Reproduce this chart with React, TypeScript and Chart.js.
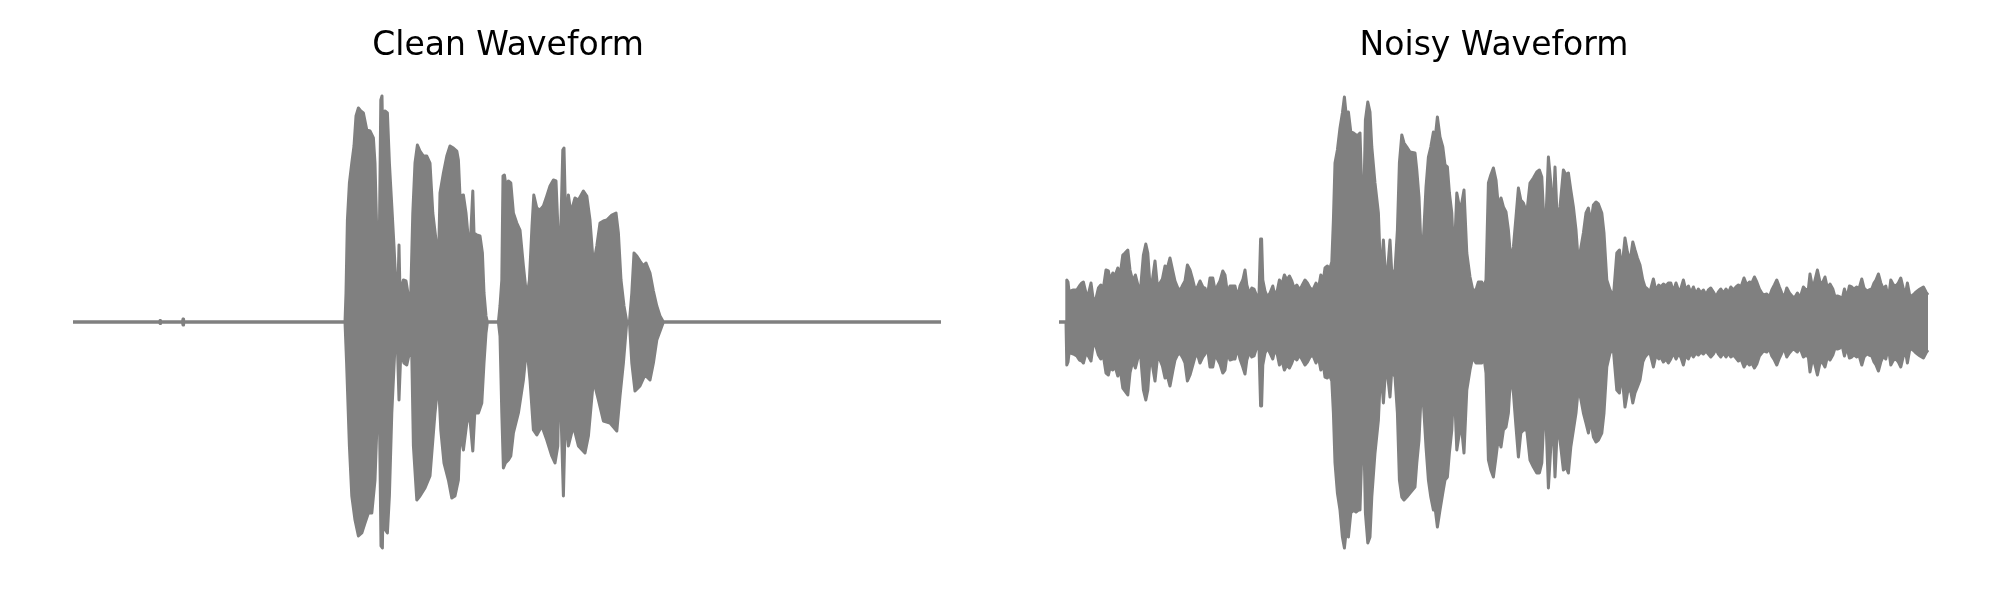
import React, { useEffect, useRef } from "react";
import { Chart, registerables } from "chart.js";

Chart.register(...registerables);

// Titles of the two panels
const TITLES = ["Clean Waveform", "Noisy Waveform"];

// Time axis (ms) and amplitude range (arbitrary units) shared by both panels
const DURATION_MS = 4350;
const AMP_MAX = 232;
const AMP_MIN = -238;

// Clean waveform: upper envelope [time ms, amplitude]
const cleanUpper: [number, number][] = [
  [0, 0], [432, 0], [435, 1.5], [438, 0], [547, 0], [550, 3], [553, 0],
  [1360, 0], [1365, 29], [1372, 102], [1382, 139], [1394, 159], [1405, 176], [1415, 206], [1427, 214],
  [1439, 211], [1452, 209], [1469, 192], [1485, 191], [1502, 184], [1510, 159], [1519, 89], [1532, 89],
  [1539, 222], [1545, 226], [1552, 142], [1560, 211], [1572, 209], [1582, 159], [1594, 116], [1605, 76],
  [1615, 36], [1625, 36], [1630, 77], [1635, 29], [1652, 42], [1665, 41], [1677, 26], [1689, 29],
  [1699, 109], [1710, 159], [1722, 177], [1735, 171], [1752, 166], [1769, 166], [1785, 159], [1799, 109],
  [1815, 82], [1827, 56], [1835, 129], [1852, 149], [1869, 166], [1885, 176], [1902, 174], [1919, 171],
  [1927, 162], [1935, 126], [1952, 127], [1965, 109], [1977, 82], [1989, 89], [1999, 131], [2005, 89],
  [2019, 87], [2035, 86], [2047, 69], [2055, 29], [2065, 6], [2072, 0], [2127, 0], [2135, 16],
  [2144, 42], [2150, 146], [2157, 147], [2165, 136], [2177, 141], [2189, 139], [2202, 109], [2219, 99],
  [2235, 92], [2252, 56], [2269, 24], [2282, 42], [2295, 96], [2304, 127], [2319, 114], [2335, 112],
  [2352, 116], [2369, 126], [2385, 136], [2402, 142], [2415, 141], [2425, 92], [2435, 62], [2449, 172],
  [2455, 174], [2464, 96], [2477, 127], [2489, 109], [2510, 124], [2527, 122], [2552, 131], [2569, 126],
  [2585, 102], [2602, 57], [2619, 76], [2635, 99], [2652, 101], [2669, 102], [2694, 107], [2715, 109],
  [2727, 89], [2740, 42], [2755, 16], [2769, 0], [2782, 0], [2794, 29], [2805, 69], [2819, 66],
  [2835, 61], [2852, 56], [2865, 59], [2885, 49], [2902, 31], [2919, 16], [2935, 6], [2952, 0],
  [4340, 0],
];

// Clean waveform: lower envelope [time ms, amplitude]
const cleanLower: [number, number][] = [
  [0, 0], [432, 0], [435, -1.5], [438, 0], [547, 0], [550, -3], [553, 0],
  [1360, 0], [1368, -41], [1382, -124], [1394, -174], [1410, -198], [1427, -214], [1444, -211], [1460, -201],
  [1477, -191], [1494, -191], [1510, -158], [1522, -91], [1532, -91], [1540, -224], [1547, -226], [1554, -124],
  [1562, -208], [1572, -211], [1582, -174], [1594, -91], [1610, -24], [1622, -24], [1630, -78], [1639, -31],
  [1655, -41], [1669, -43], [1682, -31], [1694, -34], [1702, -124], [1719, -178], [1735, -174], [1760, -166],
  [1785, -154], [1810, -91], [1827, -58], [1839, -108], [1855, -141], [1877, -158], [1894, -176], [1910, -174],
  [1927, -158], [1935, -111], [1952, -128], [1969, -101], [1982, -91], [1999, -129], [2009, -91], [2027, -91],
  [2044, -81], [2055, -41], [2065, -11], [2072, 0], [2127, 0], [2135, -14], [2144, -91], [2152, -146],
  [2162, -141], [2177, -138], [2189, -134], [2202, -111], [2227, -91], [2252, -58], [2269, -24], [2285, -58],
  [2302, -108], [2319, -113], [2344, -104], [2369, -118], [2394, -134], [2410, -141], [2424, -124], [2430, -58],
  [2440, -91], [2452, -174], [2462, -91], [2477, -124], [2502, -104], [2527, -124], [2560, -131], [2577, -114],
  [2602, -58], [2627, -78], [2652, -99], [2685, -101], [2719, -109], [2735, -74], [2752, -41], [2769, 0],
  [2782, 0], [2794, -41], [2810, -69], [2835, -64], [2860, -53], [2885, -58], [2902, -41], [2919, -18],
  [2952, 0], [4340, 0],
];

// Noisy waveform envelope: [time ms, upper amplitude, lower amplitude]
const noisyEnvelope: [number, number, number][] = [
  [0, 0, 0], [35, 0, 0], [39, 42, -43], [45, 40, -40], [52, 27, -28], [59, 31, -31], [72, 32, -32], [89, 32, -34],
  [102, 36, -38], [114, 39, -39], [122, 40, -41], [135, 29, -31], [147, 28, -34], [160, 39, -39], [170, 24, -24],
  [183, 22, -23], [197, 34, -33], [209, 37, -37], [222, 34, -34], [235, 52, -51], [247, 51, -53], [255, 42, -46],
  [269, 49, -48], [280, 46, -44], [294, 54, -54], [305, 46, -46], [319, 67, -66], [330, 69, -69], [344, 72, -73],
  [355, 52, -51], [369, 41, -39], [382, 47, -46], [397, 35, -34], [409, 36, -36], [422, 67, -68], [434, 78, -78],
  [444, 69, -68], [455, 36, -38], [465, 39, -41], [480, 61, -59], [492, 36, -36], [505, 39, -38], [517, 43, -44],
  [530, 56, -56], [542, 54, -54], [555, 64, -64], [569, 51, -49], [580, 41, -38], [592, 35, -33], [605, 31, -31],
  [619, 37, -36], [630, 41, -41], [642, 57, -59], [655, 52, -53], [669, 42, -43], [680, 33, -35], [692, 35, -32],
  [705, 41, -41], [719, 35, -35], [730, 34, -32], [742, 26, -25], [755, 44, -45], [769, 44, -45], [780, 32, -33],
  [792, 36, -37], [805, 41, -42], [819, 51, -51], [830, 47, -48], [842, 29, -30], [855, 36, -38], [869, 36, -37],
  [880, 36, -37], [892, 25, -26], [905, 36, -37], [919, 42, -45], [930, 52, -52], [939, 37, -38], [952, 28, -30],
  [964, 34, -35], [975, 33, -34], [989, 26, -25], [1000, 27, -26], [1008, 83, -84], [1013, 83, -84], [1019, 42, -43],
  [1030, 31, -31], [1042, 25, -26], [1055, 29, -31], [1069, 36, -37], [1080, 26, -27], [1092, 32, -33], [1102, 42, -43],
  [1114, 37, -38], [1127, 47, -48], [1139, 42, -43], [1152, 46, -46], [1164, 41, -41], [1175, 34, -35], [1189, 37, -38],
  [1202, 32, -33], [1214, 36, -37], [1230, 42, -43], [1242, 39, -40], [1255, 34, -35], [1269, 32, -33], [1285, 39, -41],
  [1297, 33, -35], [1309, 47, -48], [1322, 42, -43], [1330, 54, -55], [1342, 56, -56], [1352, 52, -53], [1364, 60, -59],
  [1372, 102, -91], [1380, 159, -141], [1392, 172, -171], [1405, 194, -188], [1417, 209, -215], [1427, 225, -226],
  [1435, 209, -211], [1447, 210, -215], [1459, 190, -191], [1472, 189, -188], [1485, 187, -190], [1497, 187, -188],
  [1505, 189, -188], [1514, 132, -131], [1522, 99, -91], [1532, 202, -191], [1544, 220, -221], [1555, 210, -215],
  [1564, 175, -175], [1580, 139, -131], [1597, 109, -98], [1609, 42, -45], [1622, 82, -81], [1632, 49, -51],
  [1642, 49, -51], [1655, 82, -75], [1664, 49, -48], [1680, 52, -55], [1692, 92, -91], [1702, 159, -158],
  [1714, 187, -175], [1725, 179, -178], [1739, 175, -175], [1755, 170, -171], [1780, 169, -165], [1789, 152, -141],
  [1800, 125, -118], [1814, 55, -58], [1825, 95, -91], [1835, 135, -125], [1847, 165, -158], [1859, 175, -175],
  [1872, 190, -188], [1880, 182, -185], [1892, 205, -205], [1905, 185, -188], [1919, 175, -171], [1930, 157, -158],
  [1942, 155, -155], [1952, 129, -131], [1964, 109, -108], [1975, 59, -58], [1989, 129, -128], [2002, 115, -111],
  [2014, 119, -108], [2025, 132, -131], [2039, 69, -68], [2055, 45, -48], [2069, 32, -35], [2085, 32, -41],
  [2097, 40, -41], [2114, 40, -41], [2125, 35, -35], [2135, 42, -51], [2147, 139, -138], [2159, 147, -148],
  [2172, 154, -155], [2185, 142, -135], [2197, 115, -115], [2210, 124, -125], [2222, 115, -108], [2235, 110, -105],
  [2247, 92, -91], [2259, 62, -51], [2272, 75, -71], [2285, 105, -105], [2297, 134, -135], [2309, 122, -111],
  [2322, 119, -108], [2339, 109, -108], [2355, 139, -138], [2372, 144, -145], [2389, 150, -151], [2402, 152, -151],
  [2414, 145, -141], [2430, 79, -71], [2447, 165, -166], [2459, 139, -125], [2469, 102, -91], [2480, 155, -155],
  [2492, 99, -105], [2505, 115, -118], [2522, 152, -148], [2535, 147, -145], [2547, 149, -151], [2559, 132, -125],
  [2572, 115, -108], [2585, 92, -91], [2597, 59, -65], [2610, 75, -78], [2622, 89, -91], [2635, 109, -101],
  [2647, 114, -111], [2659, 99, -98], [2672, 117, -115], [2685, 120, -120], [2697, 118, -118], [2714, 109, -111],
  [2725, 89, -91], [2739, 42, -45], [2755, 32, -31], [2772, 25, -28], [2789, 69, -68], [2802, 72, -71],
  [2814, 52, -51], [2830, 84, -85], [2842, 70, -71], [2855, 60, -65], [2869, 80, -81], [2880, 72, -71],
  [2892, 64, -65], [2905, 57, -58], [2919, 42, -40], [2930, 35, -35], [2942, 33, -32], [2955, 30, -31],
  [2972, 43, -45], [2985, 31, -33], [2999, 37, -37], [3009, 35, -35], [3022, 38, -40], [3035, 36, -37],
  [3047, 39, -41], [3059, 39, -37], [3072, 30, -31], [3085, 39, -37], [3097, 32, -32], [3109, 33, -35],
  [3122, 42, -43], [3134, 32, -33], [3147, 36, -37], [3159, 29, -31], [3172, 35, -35], [3185, 28, -31],
  [3197, 33, -33], [3210, 29, -30], [3222, 32, -32], [3235, 27, -29], [3247, 32, -32], [3259, 34, -35],
  [3272, 30, -32], [3285, 25, -27], [3297, 30, -32], [3309, 33, -35], [3322, 29, -31], [3335, 33, -35],
  [3347, 29, -31], [3359, 35, -35], [3372, 32, -33], [3385, 35, -36], [3397, 37, -39], [3410, 35, -37],
  [3425, 44, -45], [3439, 37, -40], [3452, 40, -43], [3464, 39, -41], [3477, 45, -46], [3489, 40, -42],
  [3502, 33, -34], [3514, 29, -31], [3525, 27, -29], [3539, 28, -30], [3552, 25, -27], [3564, 32, -34],
  [3577, 37, -38], [3589, 42, -43], [3602, 35, -36], [3614, 29, -31], [3625, 24, -26], [3639, 34, -35],
  [3652, 29, -31], [3669, 25, -27], [3680, 25, -28], [3692, 29, -30], [3705, 24, -26], [3722, 35, -35],
  [3735, 32, -33], [3747, 33, -35], [3755, 48, -50], [3769, 33, -35], [3780, 42, -43], [3792, 52, -53],
  [3805, 40, -41], [3817, 39, -40], [3830, 45, -45], [3842, 34, -35], [3855, 38, -38], [3869, 33, -33],
  [3880, 25, -26], [3892, 26, -27], [3905, 25, -26], [3915, 22, -23], [3927, 33, -34], [3939, 24, -25],
  [3952, 36, -36], [3964, 35, -35], [3975, 33, -33], [3989, 35, -35], [4000, 33, -33], [4014, 43, -43],
  [4025, 34, -35], [4039, 31, -32], [4050, 32, -33], [4064, 33, -34], [4075, 39, -40], [4085, 42, -43],
  [4097, 48, -49], [4109, 39, -40], [4122, 33, -34], [4134, 36, -37], [4147, 23, -25], [4159, 42, -43],
  [4172, 37, -38], [4185, 36, -37], [4197, 39, -40], [4209, 44, -45], [4222, 33, -34], [4235, 31, -32],
  [4242, 39, -41], [4255, 25, -26], [4269, 27, -28], [4280, 29, -30], [4292, 31, -32], [4305, 33, -34],
  [4322, 35, -36], [4335, 30, -31], [4345, 27, -28],
];

const GRAY = "#808080";

type Pt = { x: number; y: number };

function WavePanel(props: {
  title: string;
  upper: Pt[];
  lower: Pt[];
  left: number;
  padLeft: number;
  padRight: number;
}) {
  const ref = useRef<HTMLCanvasElement | null>(null);
  useEffect(() => {
    if (!ref.current) return;
    const ds = (data: Pt[]) => ({
      data,
      borderColor: GRAY,
      backgroundColor: GRAY,
      fill: "origin" as const,
      borderWidth: 3,
      borderJoinStyle: "round" as const,
      pointRadius: 0,
      tension: 0,
    });
    const chart = new Chart(ref.current, {
      type: "line",
      data: { datasets: [ds(props.upper), ds(props.lower)] },
      options: {
        animation: false,
        responsive: false,
        devicePixelRatio: 1,
        events: [],
        layout: { padding: { left: props.padLeft, right: props.padRight, top: 0, bottom: 40 } },
        scales: {
          x: { type: "linear", min: 0, max: DURATION_MS, display: false },
          y: { type: "linear", min: AMP_MIN, max: AMP_MAX, display: false },
        },
        plugins: {
          legend: { display: false },
          tooltip: { enabled: false },
          title: {
            display: true,
            text: props.title,
            color: "#000000",
            font: { family: "'DejaVu Sans'", size: 33, weight: "normal", lineHeight: 1.2 },
            padding: { top: 27, bottom: 23.4 },
          },
        },
      },
    });
    return () => chart.destroy();
  }, []);
  return (
    <canvas
      ref={ref}
      width={1000}
      height={600}
      style={{ position: "absolute", left: props.left, top: 0, width: 1000, height: 600 }}
    />
  );
}

export default function App() {
  const cu = cleanUpper.map(([x, y]) => ({ x, y }));
  const cl = cleanLower.map(([x, y]) => ({ x, y }));
  const nu = noisyEnvelope.map(([x, u]) => ({ x, y: u }));
  const nl = noisyEnvelope.map(([x, , l]) => ({ x, y: l }));
  return (
    <div style={{ position: "absolute", left: 0, top: 0, width: 2000, height: 600, background: "#ffffff" }}>
      <WavePanel title={TITLES[0]} upper={cu} lower={cl} left={0} padLeft={73} padRight={57} />
      <WavePanel title={TITLES[1]} upper={nu} lower={nl} left={1000} padLeft={59} padRight={71} />
    </div>
  );
}
